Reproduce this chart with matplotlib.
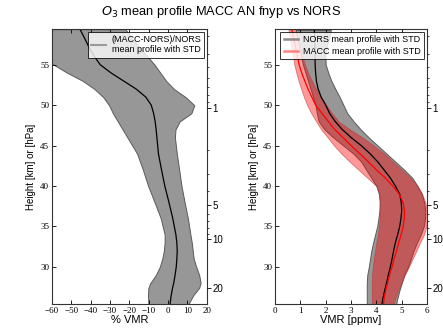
import numpy as np
import matplotlib
matplotlib.use("Agg")
import matplotlib.pyplot as plt
from matplotlib.lines import Line2D

# ---------------- data ----------------
# Left panel: relative difference (MACC-NORS)/NORS in % VMR
rel_height = [59.4, 58, 57, 56, 55, 54, 53, 52, 51, 50, 49, 48, 47, 46, 45, 44, 42, 40,
              38, 36, 34, 33, 32, 31, 30, 29, 28, 27.4, 26.5, 25.4]
rel_mean = [-45.5, -42.5, -40.5, -38, -35, -29.5, -23, -16.5, -11.5, -8.7, -7.5, -6.7, -6.2,
            -5.8, -5.4, -5.0, -3.4, -1.7, 0.4, 2.4, 4.0, 4.5, 4.7, 4.5, 4.2, 3.6, 2.9, 2.3, 1.6, 1.0]
rel_low = [-80, -75, -70, -65, -59, -52, -44, -38, -33.5, -30.5, -28.5, -26, -23.5, -21, -18.5,
           -16, -13, -10.3, -7, -3.8, -1.8, -1.8, -2.2, -3, -4.3, -6.3, -9.2, -10.2, -10.4, -10.2]
rel_high = [-22, -18, -14, -10.5, -7, -4, -1, 3, 9, 13.5, 12, 6, 3.8, 3.5, 4, 4.5, 5.7, 6.9,
            8.5, 10.2, 11.5, 12.2, 12.7, 13.2, 14.5, 16, 16.8, 16, 13, 10.5]

# Right panel: mean profiles in ppmv
vmr_height = [59.3, 58, 57, 56, 55, 54, 53, 52, 51, 50, 49, 48, 47, 46, 45, 44, 43, 42, 41,
              40, 39, 38, 37, 36, 35, 34, 33, 32, 31, 30, 29, 28, 27, 26, 25.4]
nors_mean = [1.55, 1.57, 1.58, 1.58, 1.58, 1.6, 1.63, 1.7, 1.82, 2.0, 2.15, 2.37, 2.65, 3.0,
             3.4, 3.75, 4.05, 4.3, 4.55, 4.75, 4.92, 4.98, 5.0, 4.97, 4.92, 4.84, 4.75, 4.68,
             4.62, 4.55, 4.47, 4.4, 4.32, 4.25, 4.22]
nors_low = [0.82, 0.9, 0.97, 1.03, 1.1, 1.2, 1.3, 1.4, 1.5, 1.6, 1.65, 1.72, 1.95, 2.3,
            2.7, 3.1, 3.4, 3.6, 3.8, 4.0, 4.1, 4.13, 4.12, 4.08, 4.03, 3.95, 3.87, 3.8,
            3.75, 3.7, 3.64, 3.62, 3.62, 3.62, 3.62]
nors_high = [2.2, 2.1, 2.02, 1.98, 2.0, 2.1, 2.22, 2.38, 2.55, 2.7, 2.85, 3.1, 3.38, 3.7,
             4.05, 4.4, 4.75, 5.1, 5.42, 5.62, 5.8, 5.88, 5.93, 5.92, 5.87, 5.75, 5.6, 5.47,
             5.36, 5.25, 5.1, 5.0, 4.9, 4.82, 4.78]
macc_mean = [0.66, 0.75, 0.82, 0.88, 0.95, 1.05, 1.17, 1.3, 1.45, 1.6, 1.85, 2.1, 2.35, 2.68,
             3.0, 3.35, 3.68, 4.0, 4.35, 4.65, 4.9, 5.05, 5.11, 5.1, 5.06, 4.98, 4.88, 4.8,
             4.7, 4.62, 4.52, 4.44, 4.36, 4.3, 4.28]
macc_low = [0.53, 0.6, 0.66, 0.71, 0.76, 0.84, 0.93, 1.03, 1.14, 1.27, 1.43, 1.62, 1.82, 2.08,
            2.33, 2.62, 2.95, 3.3, 3.65, 4.0, 4.12, 4.15, 4.15, 4.13, 4.1, 4.06, 4.0, 3.95,
            3.9, 3.86, 3.83, 3.82, 3.82, 3.82, 3.82]
macc_high = [0.79, 0.9, 1.0, 1.08, 1.18, 1.3, 1.45, 1.62, 1.82, 2.02, 2.25, 2.5, 2.95, 3.45,
             3.9, 4.3, 4.65, 5.0, 5.35, 5.62, 5.8, 5.93, 6.0, 6.0, 5.97, 5.88, 5.72, 5.58,
             5.43, 5.28, 5.12, 4.98, 4.85, 4.74, 4.68]

# pressure axis (hPa) and matching heights (km)
pres_labels = [1, 5, 10, 20]
pres_heights = [49.6, 37.7, 33.4, 27.4]
pres_minor = [0.3, 0.4, 0.5, 0.6, 0.7, 0.8, 0.9, 2, 3, 4, 6, 7, 8, 9]

rel_xticks = [-60, -50, -40, -30, -20, -10, 0, 10, 20]
vmr_xticks = [0, 1, 2, 3, 4, 5, 6]

# ---------------- style ----------------
SANS = ['Liberation Sans', 'DejaVu Sans']
SERIF = ['Liberation Serif', 'DejaVu Serif']
GRAY = '#979797'
EDGE = '#5a5a5a'

fig = plt.figure(figsize=(4.43, 3.28), dpi=100)
axL = fig.add_axes([0.117, 0.073, 0.350, 0.838])
axR = fig.add_axes([0.621, 0.073, 0.343, 0.838])

ylim = (25.4, 59.4)


def height_of_pressure(p):
    lp = np.log(np.asarray(pres_labels, float))
    slope = (pres_heights[1] - pres_heights[0]) / (lp[1] - lp[0])
    lpp = np.log(np.asarray(p, float))
    h = np.interp(lpp, lp, pres_heights)
    h = np.where(lpp < lp[0], pres_heights[0] + slope * (lpp - lp[0]), h)
    return h


def style_axes(ax, xticks, xlabel):
    ax.set_ylim(*ylim)
    ax.set_xlim(xticks[0], xticks[-1])
    ax.set_xticks(xticks)
    ax.set_yticks([30, 35, 40, 45, 50, 55])
    ax.tick_params(axis='both', direction='in', length=3, width=0.6, labelsize=6.5,
                   top=True, right=False, pad=2)
    for lab in ax.get_xticklabels() + ax.get_yticklabels():
        lab.set_family(SERIF)
    ax.set_xlabel(xlabel, family=SANS, fontsize=8, labelpad=0)
    ax.set_ylabel('Height [km] or [hPa]', family=SANS, fontsize=7, labelpad=3)
    for s in ax.spines.values():
        s.set_linewidth(0.8)
        s.set_color('#333333')
    # pressure axis on the right
    tw = ax.twinx()
    tw.set_ylim(*ylim)
    tw.set_yticks(height_of_pressure(pres_labels))
    tw.set_yticklabels([str(p) for p in pres_labels], family=SANS, fontsize=7)
    tw.set_yticks(height_of_pressure(pres_minor), minor=True)
    tw.tick_params(axis='y', which='major', direction='out', length=3, width=0.6, pad=1)
    tw.tick_params(axis='y', which='minor', direction='out', length=1.5, width=0.5)
    for s in tw.spines.values():
        s.set_visible(False)


# ---------------- left panel ----------------
axL.fill_betweenx(rel_height, rel_low, rel_high, facecolor=GRAY, edgecolor=EDGE, lw=0.7)
axL.plot(rel_mean, rel_height, color='k', lw=0.9)
style_axes(axL, rel_xticks, '% VMR')
leg = axL.legend([Line2D([], [], color='#9a9a9a', lw=1.5)],
                 ['(MACC-NORS)/NORS\nmean profile with STD'],
                 loc='upper right', frameon=True, fancybox=False,
                 borderaxespad=0.3, handlelength=1.6, borderpad=0.35, handletextpad=0.6,
                 prop={'family': SANS, 'size': 6.5})
leg.get_frame().set_edgecolor('k')
leg.get_frame().set_linewidth(0.7)
for t in leg.get_texts():
    t.set_ha('right')

# ---------------- right panel ----------------
axR.fill_betweenx(vmr_height, nors_low, nors_high, facecolor=GRAY, edgecolor=EDGE, lw=0.7)
axR.plot(nors_mean, vmr_height, color='k', lw=0.9)
axR.fill_betweenx(vmr_height, macc_low, macc_high, facecolor=(1, 0, 0, 0.4),
                  edgecolor=(0.75, 0.2, 0.2, 0.6), lw=0.6)
axR.plot(macc_mean, vmr_height, color='red', lw=0.9)
style_axes(axR, vmr_xticks, 'VMR [ppmv]')
legR = axR.legend([Line2D([], [], color='#8a8a8a', lw=1.8),
                   Line2D([], [], color='#ff8080', lw=1.8)],
                  ['NORS mean profile with STD', 'MACC mean profile with STD'],
                  loc='upper right', frameon=True, fancybox=False, borderaxespad=0.3,
                  handlelength=1.6, borderpad=0.35, handletextpad=0.6, labelspacing=0.3,
                  prop={'family': SANS, 'size': 6.5})
legR.get_frame().set_edgecolor('k')
legR.get_frame().set_linewidth(0.7)

fig.text(0.5, 0.962, r'$O_3$ mean profile MACC AN fnyp vs NORS', ha='center', va='center',
         family=SANS, fontsize=9.3)

fig.savefig('out.png', dpi=100)
